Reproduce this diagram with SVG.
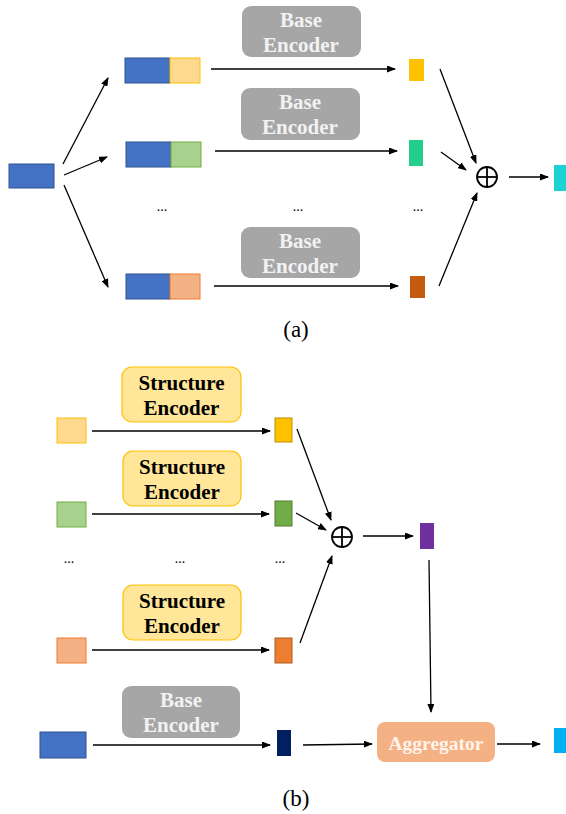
<svg xmlns="http://www.w3.org/2000/svg" width="566" height="814" viewBox="0 0 566 814">
<style>
.t{font-family:"Liberation Serif","Times New Roman",serif;font-weight:bold;font-size:21px;text-anchor:middle}
.gw{fill:#F2F2F2}
.bk{fill:#000}
.cap{font-family:"Liberation Serif","Times New Roman",serif;font-size:23px;text-anchor:middle;fill:#000}
.dots{font-family:"Liberation Serif","Times New Roman",serif;font-size:14px;text-anchor:middle;fill:#000}
.gray{fill:#A6A6A6}
.senc{fill:#FFE699;stroke:#FFC000;stroke-width:1.2}
.blue{fill:#4472C4;stroke:#2F528F;stroke-width:1}
.conn line{stroke:#000;stroke-width:1.3;marker-end:url(#ah)}
.op{fill:none;stroke:#000;stroke-width:1.8}
</style>
<defs>
<marker id="ah" markerWidth="9" markerHeight="7" refX="8" refY="3.5" orient="auto" markerUnits="userSpaceOnUse">
<path d="M0,0 L9,3.5 L0,7 Z" fill="#000"/>
</marker>
</defs>

<!-- Part (a) -->
<g id="a-input"><rect class="blue" x="9" y="164" width="45" height="24"/></g>
<g id="a-row1">
<rect class="blue" x="125" y="58" width="45" height="25"/>
<rect x="170" y="58" width="30" height="25" fill="#FFD98F" stroke="#FFC000" stroke-width="1"/>
</g>
<g id="a-row2">
<rect class="blue" x="126" y="142" width="45" height="25"/>
<rect x="171" y="142" width="30" height="25" fill="#A9D18E" stroke="#70AD47" stroke-width="1"/>
</g>
<g id="a-row3">
<rect class="blue" x="126" y="274" width="44" height="25"/>
<rect x="170" y="274" width="30" height="25" fill="#F4B183" stroke="#ED7D31" stroke-width="1"/>
</g>
<g id="a-enc1"><rect class="gray" x="242" y="6" width="119" height="51" rx="9"/>
<text class="t gw" x="301" y="27">Base</text><text class="t gw" x="301" y="52">Encoder</text></g>
<g id="a-enc2"><rect class="gray" x="241" y="88" width="119" height="52" rx="9"/>
<text class="t gw" x="300" y="109">Base</text><text class="t gw" x="300" y="134">Encoder</text></g>
<g id="a-enc3"><rect class="gray" x="241" y="227" width="119" height="51" rx="9"/>
<text class="t gw" x="300" y="248">Base</text><text class="t gw" x="300" y="273">Encoder</text></g>
<g id="a-out1"><rect x="409" y="59" width="15" height="22" fill="#FFC000"/></g>
<g id="a-out2"><rect x="409" y="140" width="14" height="26" fill="#22CE8C"/></g>
<g id="a-out3"><rect x="410" y="276" width="15" height="22" fill="#C55A11"/></g>
<g id="a-sum"><circle class="op" cx="487" cy="177" r="10"/><line class="op" x1="477" y1="177" x2="497" y2="177"/><line class="op" x1="487" y1="167" x2="487" y2="187"/></g>
<g id="a-final"><rect x="554" y="165" width="12" height="26" fill="#1BD3D3"/></g>
<g id="a-dots">
<text class="dots" x="162" y="211">...</text>
<text class="dots" x="298" y="211">...</text>
<text class="dots" x="418" y="211">...</text>
</g>
<text class="cap" x="296" y="337">(a)</text>

<!-- Part (b) -->
<g id="b-senc1"><rect class="senc" x="122" y="367" width="119" height="55" rx="10"/>
<text class="t bk" x="181.5" y="390">Structure</text><text class="t bk" x="181.5" y="415">Encoder</text></g>
<g id="b-senc2"><rect class="senc" x="123" y="451" width="118" height="55" rx="10"/>
<text class="t bk" x="182" y="474">Structure</text><text class="t bk" x="182" y="499">Encoder</text></g>
<g id="b-senc3"><rect class="senc" x="123" y="585" width="118" height="55" rx="10"/>
<text class="t bk" x="182" y="608">Structure</text><text class="t bk" x="182" y="633">Encoder</text></g>
<g id="b-in1"><rect x="57" y="418" width="29" height="25" fill="#FFD98F" stroke="#FFC000" stroke-width="1"/></g>
<g id="b-in2"><rect x="57" y="502" width="29" height="25" fill="#A9D18E" stroke="#70AD47" stroke-width="1"/></g>
<g id="b-in3"><rect x="57" y="638" width="29" height="25" fill="#F4B183" stroke="#ED7D31" stroke-width="1"/></g>
<g id="b-out1"><rect x="275" y="418" width="17" height="24" fill="#FFC000" stroke="#BF9000" stroke-width="1"/></g>
<g id="b-out2"><rect x="275" y="501" width="17" height="25" fill="#70AD47" stroke="#507E32" stroke-width="1"/></g>
<g id="b-out3"><rect x="275" y="638" width="17" height="25" fill="#ED7D31" stroke="#AE5A21" stroke-width="1"/></g>
<g id="b-sum"><circle class="op" cx="342" cy="537" r="10"/><line class="op" x1="332" y1="537" x2="352" y2="537"/><line class="op" x1="342" y1="527" x2="342" y2="547"/></g>
<g id="b-purple"><rect x="420" y="523" width="14" height="26" fill="#7030A0"/></g>
<g id="b-dots">
<text class="dots" x="69" y="563">...</text>
<text class="dots" x="180" y="563">...</text>
<text class="dots" x="280" y="563">...</text>
</g>
<g id="b-benc"><rect class="gray" x="122" y="686" width="118" height="52" rx="9"/>
<text class="t gw" x="181" y="707">Base</text><text class="t gw" x="181" y="732">Encoder</text></g>
<g id="b-in"><rect class="blue" x="40" y="732" width="46" height="26"/></g>
<g id="b-navy"><rect x="277" y="730" width="14" height="26" fill="#002060"/></g>
<g id="b-agg"><rect x="377" y="722" width="118" height="40" rx="8" fill="#F4B183"/>
<text class="t" x="436" y="750" fill="#FFF4EC" style="font-size:19.5px">Aggregator</text></g>
<g id="b-final"><rect x="554" y="728" width="12" height="25" fill="#00B0F0"/></g>
<text class="cap" x="296" y="806">(b)</text>

<g id="connectors" class="conn">
<line x1="63" y1="164" x2="108" y2="78"/>
<line x1="64" y1="175" x2="107" y2="157"/>
<line x1="64" y1="185" x2="108" y2="287"/>
<line x1="211" y1="69" x2="395" y2="69"/>
<line x1="215" y1="151" x2="397" y2="151"/>
<line x1="214" y1="286" x2="398" y2="286"/>
<line x1="440" y1="69" x2="476" y2="163"/>
<line x1="441" y1="152" x2="466" y2="170"/>
<line x1="439" y1="286" x2="477" y2="193"/>
<line x1="509" y1="177" x2="548" y2="177"/>
<line x1="92" y1="431" x2="270" y2="431"/>
<line x1="92" y1="514" x2="269" y2="514"/>
<line x1="92" y1="650" x2="269" y2="650"/>
<line x1="297" y1="429" x2="331" y2="520"/>
<line x1="296" y1="513" x2="326" y2="530"/>
<line x1="300" y1="643" x2="332" y2="556"/>
<line x1="363" y1="536" x2="413" y2="536"/>
<line x1="429" y1="560" x2="431" y2="712"/>
<line x1="93" y1="745" x2="270" y2="745"/>
<line x1="303" y1="745" x2="372" y2="744"/>
<line x1="497" y1="744" x2="540" y2="744"/>
</g>
</svg>
